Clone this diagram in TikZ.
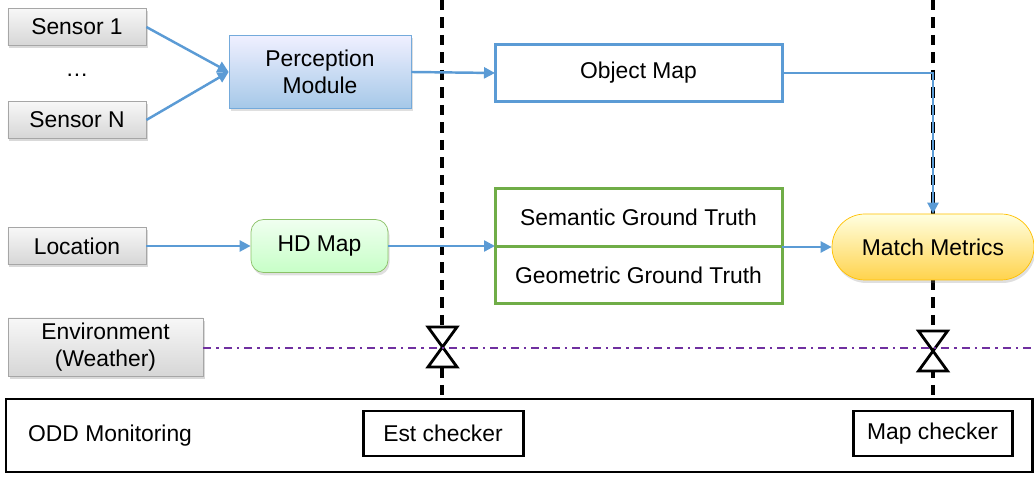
\documentclass[tikz,border=0pt]{standalone}
\usepackage{fontspec}
\setmainfont{Liberation Sans}
\usetikzlibrary{arrows.meta,positioning,shadows,backgrounds}

\definecolor{flowblue}{HTML}{5B9BD5}
\definecolor{boxgray}{HTML}{A6A6A6}
\definecolor{mapgreen}{HTML}{70AD47}
\definecolor{hdgreen}{HTML}{8CC168}
\definecolor{metricgold}{HTML}{FFC000}
\definecolor{envpurple}{HTML}{7030A0}

\begin{document}
\begin{tikzpicture}[
    every node/.style={font=\fontsize{13}{15.5}\selectfont},
    block/.style={align=center, inner sep=0pt},
    input/.style={block, draw=boxgray, top color=gray!6, bottom color=gray!32, minimum width=27.6mm, minimum height=7.4mm,
      drop shadow={opacity=0.3, shadow xshift=0.3mm, shadow yshift=-0.6mm}},
    percept/.style={block, draw=flowblue!85, top color=blue!6, bottom color=flowblue!55, minimum width=36.4mm, minimum height=14.6mm,
      drop shadow={opacity=0.25, shadow xshift=0.3mm, shadow yshift=-0.6mm}},
    hdmap/.style={block, draw=hdgreen, rounded corners=2.5mm, top color=green!6, bottom color=green!22, minimum width=27.4mm, minimum height=10.6mm,
      drop shadow={opacity=0.25, shadow xshift=0.3mm, shadow yshift=-0.6mm}},
    truth/.style={block, draw=mapgreen, line width=1.7pt, fill=white, outer sep=0pt, minimum width=28.7mm, minimum height=5.7mm},
    metric/.style={block, draw=metricgold, rounded corners=6.6mm, top color=yellow!12, bottom color=metricgold!70, minimum width=40.4mm, minimum height=13.2mm,
      drop shadow={opacity=0.25, shadow xshift=0.3mm, shadow yshift=-0.6mm}},
    checker/.style={block, draw=black, line width=1.7pt, fill=white, minimum height=9mm},
    flow/.style={-{Triangle[length=2.2mm, width=2.2mm]}, draw=flowblue, line width=1.4pt},
    border/.style={draw=black, line width=1.9pt, dash pattern=on 2.1mm off 1.4mm},
    valve/.style={draw=black, fill=white, line width=1.6pt, line join=miter}
  ]
    \useasboundingbox (0,0) rectangle (20.68,-9.54);

    % inputs
    \node[input] (sensor1) at (1.54,-0.54) {Sensor 1};
    \node (dots) at (1.54,-1.50) {\dots};
    \node[input] (sensorn) at (1.54,-2.40) {Sensor N};
    \node[input] (location) at (1.54,-4.92) {Location};
    \node[input, minimum width=39mm, minimum height=11.6mm] (environment) at (2.11,-6.94) {Environment\\(Weather)};

    % processing
    \node[percept] (perception) at (6.40,-1.44) {Perception\\Module};
    \node[truth, draw=flowblue, minimum width=57.4mm, minimum height=11.4mm] (objmap) at (12.77,-1.46) {Object Map};
    \node[hdmap] (hdmap) at (6.39,-4.92) {HD Map};
    \node[truth, minimum width=57.4mm, minimum height=11.5mm] (semantic) at (12.77,-4.35) {Semantic Ground Truth};
    \node[truth, minimum width=57.4mm, minimum height=11.5mm, below=0pt of semantic] (geometric) {Geometric Ground Truth};
    \node[metric] (match) at (18.66,-4.94) {Match Metrics};

    % monitoring
    \node[draw=black, line width=1.7pt, minimum width=205.2mm, minimum height=14.6mm] (odd) at (10.38,-8.71) {};
    \node[anchor=west] (oddlabel) at (0.44,-8.72) {ODD Monitoring};
    \node[checker, minimum width=32mm] (estcheck) at (8.86,-8.67) {Est checker};
    \node[checker, minimum width=31.8mm] (mapcheck) at (18.65,-8.67) {Map checker};

    % checker borders
    \coordinate (esttop) at (8.84,0);
    \coordinate (maptop) at (18.66,0);
    \begin{scope}[on background layer]
      \draw[border] (esttop) -- (esttop |- odd.north);
      \draw[border] (maptop) -- (maptop |- odd.north);
    \end{scope}

    % flows
    \draw[flow] (sensor1.east) -- (perception.west);
    \draw[flow] (sensorn.east) -- (perception.west);
    \draw[flow] (perception.east) -- (objmap.west);
    \draw[flow] (objmap.east) -| (match.north);
    \draw[flow] (location.east) -- (hdmap.west);
    \draw[flow] (hdmap.east) -- (semantic.south west |- hdmap.east);
    \draw[flow] (semantic.south east |- match.west) -- (match.west);

    % valves
    \coordinate (estvalve) at (8.85,-6.94);
    \coordinate (mapvalve) at (18.66,-7.02);
    \foreach \v in {estvalve,mapvalve}
      \draw[valve] ([shift={(-0.29,0.40)}]\v) -- ++(0.58,0) -- ++(-0.58,-0.80) -- ++(0.58,0) -- cycle;

    \coordinate (envend) at (20.68,-6.96);
    \draw[envpurple, line width=1.6pt, dash pattern=on 1.6mm off 1mm on 0.5mm off 1mm] (environment.east |- envend) -- (envend);
  \end{tikzpicture}
\end{document}
